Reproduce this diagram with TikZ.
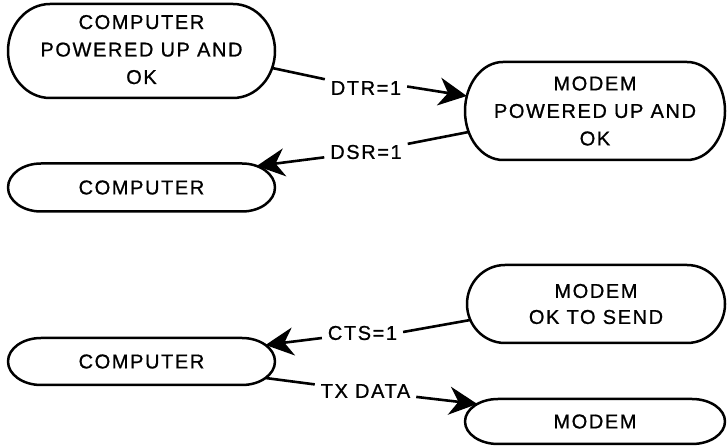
\documentclass[tikz,border=0pt]{standalone}
\usepackage{fontspec}
\setmainfont{Liberation Sans}[LetterSpace=8,FakeBold=0.9]
\usetikzlibrary{arrows.meta}

% outline of a box with half-elliptical ends, drawn round node #1
% #2 = horizontal radius of the ends, #3 = half the box height
\newcommand\pillbox[3]{%
  \draw[outline] ([xshift=#2pt]#1.north west) -- ([xshift=-#2pt]#1.north east)
    arc[start angle=90,end angle=-90,x radius=#2pt,y radius=#3pt]
    -- ([xshift=#2pt]#1.south west)
    arc[start angle=270,end angle=90,x radius=#2pt,y radius=#3pt] -- cycle;}

\begin{document}
\begin{tikzpicture}[x=1pt,y=1pt,
  every node/.style={font=\fontsize{20}{27.5}\selectfont},
  state/.style={inner sep=0pt,outer sep=0pt,align=center},
  outline/.style={line width=2.5pt,line join=round},
  signal/.style={inner xsep=6pt,inner ysep=5pt,outer sep=0pt},
  wire/.style={line width=2.6pt},
  sig/.style={wire,-{Stealth[length=28pt,width=28pt,inset=9pt]}}]
\useasboundingbox (0,0) rectangle (727,446);

% states
\node[state,minimum width=267pt,minimum height=94pt] (c1) at (141.5,395)
  {\raisebox{-5pt}{\begin{tabular}{@{}c@{}}COMPUTER\\POWERED UP AND\\OK\end{tabular}}};
\node[state,minimum width=260pt,minimum height=98pt] (m1) at (595,335)
  {MODEM\\POWERED UP AND\\OK};
\node[state,minimum width=267pt,minimum height=48pt] (c2) at (141.5,258.5) {COMPUTER};
\node[state,minimum width=258pt,minimum height=78pt] (m2) at (596,142)
  {MODEM\\[-1.5pt]OK TO SEND};
\node[state,minimum width=267pt,minimum height=47pt] (c3) at (141.5,84.5) {COMPUTER};
\node[state,minimum width=260pt,minimum height=45pt] (m3) at (595,24.5) {MODEM};

\pillbox{c1}{42}{47}
\pillbox{m1}{38}{49}
\pillbox{c2}{33}{24}
\pillbox{m2}{38}{39}
\pillbox{c3}{33}{23.5}
\pillbox{m3}{33}{22.5}

% signal names
\node[signal] (dtr) at (366,358) {DTR=1};
\node[signal] (dsr) at (366,294) {DSR=1};
\node[signal] (cts) at (362.5,113) {CTS=1};
\node[signal] (tx)  at (365.5,55) {TX DATA};

% handshake
\draw[wire] ([shift={(-2.85,-17)}]c1.east) -- (dtr);
\draw[sig] ([yshift=1.5pt]dtr.east) -- ([shift={(1.8,15)}]m1.west);

\draw[wire] ([shift={(3.7,-21)}]m1.west) -- (dsr);
\draw[sig] (dsr) -- ([shift={(-18.3,21.5)}]c2.east);

\draw[wire] ([shift={(3.3,-16)}]m2.west) -- ([yshift=1pt]cts.east);
\draw[sig] (cts) -- ([shift={(-9.5,16.5)}]c3.east);

\draw[wire] ([shift={(-9.5,-16.5)}]c3.east) -- (tx);
\draw[sig] (tx) -- ([shift={(12.3,17.5)}]m3.west);
\end{tikzpicture}
\end{document}
